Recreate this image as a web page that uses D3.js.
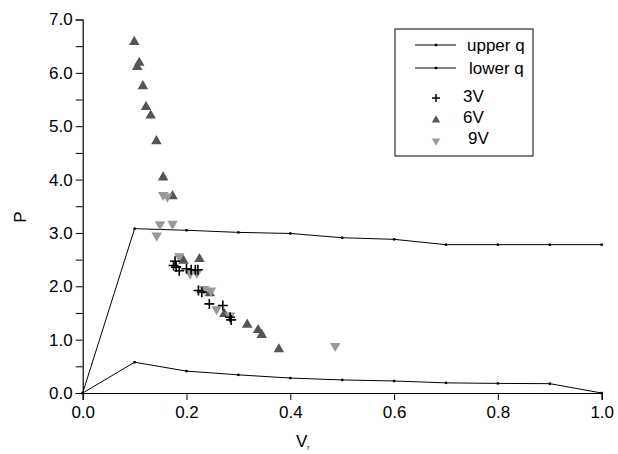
<!DOCTYPE html>
<html><head><meta charset="utf-8">
<script src="https://cdn.jsdelivr.net/npm/d3@7"></script>
<style>body{margin:0;background:#fff}text{font-family:"Liberation Sans",Arial,sans-serif}</style>
</head><body><svg id="c" width="618" height="454"></svg>
<script>
const lineX = [0,0.1,0.2,0.3,0.4,0.5,0.6,0.7,0.8,0.9,1.0];
const upperQ = [0,3.08,3.05,3.01,2.99,2.91,2.88,2.78,2.78,2.78,2.78];
const lowerQ = [0,0.577,0.41,0.34,0.28,0.245,0.225,0.19,0.18,0.175,0];
const v3x = [0.178,0.175,0.18,0.186,0.2,0.209,0.217,0.222,0.223,0.2295,0.244,0.27,0.284,0.286];
const v3y = [2.47,2.39,2.36,2.29,2.33,2.31,2.31,2.31,1.92,1.89,1.67,1.64,1.42,1.37];
const v6x = [0.0994,0.109,0.105,0.116,0.122,0.131,0.142,0.155,0.173,0.194,0.225,0.245,0.273,0.317,0.338,0.345,0.378];
const v6y = [6.58,6.19,6.11,5.75,5.36,5.20,4.72,4.04,3.69,2.48,2.51,1.87,1.48,1.28,1.18,1.09,0.82];
const v9x = [0.155,0.163,0.149,0.173,0.1426,0.186,0.207,0.22,0.234,0.247,0.258,0.284,0.4865];
const v9y = [3.71,3.68,3.16,3.17,2.95,2.56,2.24,2.25,1.95,1.92,1.57,1.45,0.88];
const xTicks = [0,0.2,0.4,0.6,0.8,1.0];
const yTicks = [0,1,2,3,4,5,6,7];
const yMinor = [0.5,1.5,2.5,3.5,4.5,5.5,6.5];

const svg = d3.select("#c");
const x = d3.scaleLinear().domain([0,1]).range([82.7,601.7]);
const y = d3.scaleLinear().domain([0,7]).range([393,19.5]);
const g = svg.append("g");

// axes
g.append("g").attr("transform",`translate(0,${y(0)})`)
  .call(d3.axisBottom(x).tickValues(xTicks).tickFormat(d3.format(".1f")).tickSizeOuter(0).tickSize(7).tickPadding(6));
g.append("g").attr("transform",`translate(${x(0)},0)`)
  .call(d3.axisLeft(y).tickValues(yTicks).tickFormat(d3.format(".1f")).tickSizeOuter(0).tickSize(7).tickPadding(3));
g.append("g").attr("transform",`translate(${x(0)},0)`)
  .call(d3.axisLeft(y).tickValues(yMinor).tickFormat("").tickSizeOuter(0).tickSize(7))
  .select(".domain").remove();
svg.selectAll(".domain").attr("stroke","#000").attr("stroke-width",1.2);
svg.selectAll(".tick line").attr("stroke","#000");
svg.selectAll(".tick text").attr("font-size",17).attr("fill","#000").attr("font-family","Liberation Sans, Arial, sans-serif");

// lines
const lineGen = d3.line().x(d=>x(d[0])).y(d=>y(d[1]));
function drawLine(vals){
  const pts = lineX.map((v,i)=>[v,vals[i]]);
  g.append("path").attr("d",lineGen(pts)).attr("fill","none").attr("stroke","#000").attr("stroke-width",1);
  g.selectAll(null).data(pts).enter().append("rect")
    .attr("x",d=>x(d[0])-1.2).attr("y",d=>y(d[1])-1.2).attr("width",2.4).attr("height",2.4).attr("fill","#000");
}
drawLine(upperQ);
drawLine(lowerQ);

const tri = d3.symbol().type(d3.symbolTriangle).size(48);
function triUp(xs,ys,col){
  g.selectAll(null).data(xs.map((v,i)=>[v,ys[i]])).enter().append("path")
    .attr("d",tri).attr("transform",d=>`translate(${x(d[0])},${y(d[1])})`).attr("fill",col);
}
function triDown(xs,ys,col){
  g.selectAll(null).data(xs.map((v,i)=>[v,ys[i]])).enter().append("path")
    .attr("d",tri).attr("transform",d=>`translate(${x(d[0])},${y(d[1])}) rotate(180)`).attr("fill",col);
}
triUp(v6x,v6y,"#555");
triDown(v9x,v9y,"#999");
g.selectAll(null).data(v3x.map((v,i)=>[v,v3y[i]])).enter().append("path")
  .attr("d","M-5,0H5M0,-5V5").attr("transform",d=>`translate(${x(d[0])},${y(d[1])})`)
  .attr("stroke","#000").attr("stroke-width",1.6).attr("fill","none");

// axis titles
svg.append("text").attr("transform","translate(26,217) rotate(-90)").attr("text-anchor","middle")
  .attr("font-size",17).text("P");
const vt = svg.append("text").attr("x",296).attr("y",447).attr("font-size",17);
vt.append("tspan").text("V");
vt.append("tspan").attr("font-size",7).attr("dy",3).text("r");

// legend
const lg = svg.append("g");
lg.append("rect").attr("x",395).attr("y",29).attr("width",138).attr("height",127)
  .attr("fill","#fff").attr("stroke","#000").attr("stroke-width",1);
const items = [
  {t:"upper q",k:"line",yy:45,tx:467},
  {t:"lower q",k:"line",yy:68,tx:469},
  {t:"3V",k:"cross",yy:96,tx:463},
  {t:"6V",k:"up",yy:117,tx:463},
  {t:"9V",k:"down",yy:138,tx:468}
];
items.forEach(it=>{
  if(it.k==="line"){
    lg.append("line").attr("x1",415).attr("x2",456).attr("y1",it.yy).attr("y2",it.yy).attr("stroke","#000");
    lg.append("rect").attr("x",434.8).attr("y",it.yy-1.2).attr("width",2.4).attr("height",2.4);
  } else if(it.k==="cross"){
    lg.append("path").attr("d","M-4,0H4M0,-4V4").attr("transform",`translate(436,${it.yy+2})`).attr("stroke","#000").attr("stroke-width",1.5);
  } else if(it.k==="up"){
    lg.append("path").attr("d",d3.symbol().type(d3.symbolTriangle).size(30)).attr("transform",`translate(436,${it.yy+3})`).attr("fill","#555");
  } else {
    lg.append("path").attr("d",d3.symbol().type(d3.symbolTriangle).size(30)).attr("transform",`translate(436,${it.yy+3}) rotate(180)`).attr("fill","#999");
  }
  lg.append("text").attr("x",it.tx).attr("y",it.yy+6).attr("font-size",17).text(it.t);
});
</script></body></html>
